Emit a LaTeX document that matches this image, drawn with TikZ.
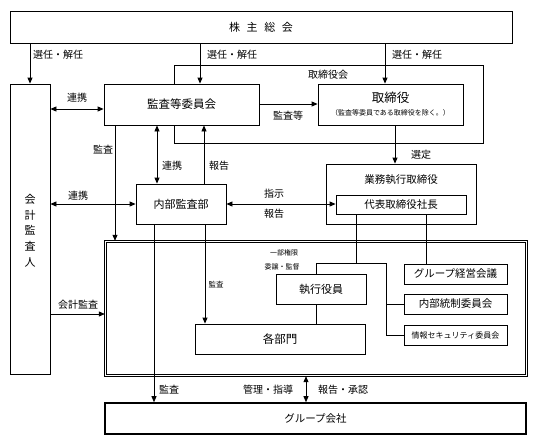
\documentclass[tikz,border=0pt]{standalone}
\usepackage{fontspec}
\setmainfont{Noto Sans CJK JP}
\usetikzlibrary{arrows.meta}
\begin{document}
\begin{tikzpicture}[x=1pt,y=-1pt,
  bx/.style={draw, line width=0.8pt, inner sep=0pt, font=\fontsize{11}{13}\selectfont},
  lab/.style={inner sep=0pt, font=\fontsize{10}{12}\selectfont},
  slab/.style={inner sep=0pt, font=\fontsize{7}{8}\selectfont},
  ln/.style={line width=0.8pt},
  arr/.style={line width=0.8pt, -{Triangle[length=6pt,width=5pt]}},
  darr/.style={line width=0.8pt, {Triangle[length=6pt,width=5pt]}-{Triangle[length=6pt,width=5pt]}}
]
\useasboundingbox (0,0) rectangle (536,445);

% boxes
\node[bx, minimum width=502pt, minimum height=32pt] (kabu) at (261,27) {株\hspace{0.6em}主\hspace{0.6em}総\hspace{0.6em}会};
\node[bx, minimum width=40pt, minimum height=290pt] (kaikei) at (30,229) {};
\node[lab, align=center, font=\fontsize{11}{15.7}\selectfont] (kaikeit) at (30,230.5) {会\\計\\監\\査\\人};
\node[bx, minimum width=155pt, minimum height=41pt, font=\fontsize{11.5}{13}\selectfont] (kansa) at (181.5,104.5) {監査等委員会};
\node[bx, minimum width=145pt, minimum height=41pt] (tori) at (390.5,104.5) {};
\node[inner sep=0pt, font=\fontsize{12.5}{14}\selectfont] (torit) at (390.5,98) {取締役};
\node[inner sep=0pt, font=\fontsize{7}{8}\selectfont] (toris) at (390.5,113) {（監査等委員である取締役を除く。）};
\node[bx, minimum width=90pt, minimum height=40pt] (naibu) at (181,204) {内部監査部};
\node[bx, minimum width=150pt, minimum height=60pt] (gyomu) at (401,194) {};
\node[inner sep=0pt, font=\fontsize{10.5}{12}\selectfont] (gyomut) at (401,180) {業務執行取締役};
\node[bx, minimum width=130pt, minimum height=19pt, font=\fontsize{10.5}{12}\selectfont] (daihyo) at (401,204.5) {代表取締役社長};
\node[inner sep=0pt, minimum width=422pt, minimum height=135pt] (frame) at (316,308.5) {};
\draw[line width=0.7pt] (frame.north west) rectangle (frame.south east);
\draw[line width=0.7pt] ([shift={(2,2)}]frame.north west) rectangle ([shift={(-2,-2)}]frame.south east);
\node[bx, minimum width=170pt, minimum height=30pt, font=\fontsize{11.5}{13}\selectfont] (kakubu) at (280,339) {各部門};
\node[bx, minimum width=90pt, minimum height=30pt] (shikko) at (321,289) {執行役員};
\node[bx, minimum width=103pt, minimum height=20pt, font=\fontsize{10.5}{12}\selectfont] (gconf) at (455.5,274) {グループ経営会議};
\node[bx, minimum width=103pt, minimum height=20pt, font=\fontsize{10.5}{12}\selectfont] (tosei) at (455.5,304) {内部統制委員会};
\node[bx, minimum width=103pt, minimum height=20pt, font=\fontsize{8}{10}\selectfont] (joho) at (455.5,335) {情報セキュリティ委員会};
\node[bx, line width=1.6pt, minimum width=421pt, minimum height=31pt, font=\fontsize{10.5}{12}\selectfont] (gco) at (315.5,418.5) {グループ会社};

% helper coordinates
\coordinate (cA) at (200,0);
\coordinate (cB) at (385,0);
\coordinate (cC) at (115,0);
\coordinate (cD) at (157,0);
\coordinate (cE) at (204,0);
\coordinate (cF) at (395,0);
\coordinate (cG) at (154,0);
\coordinate (cH) at (205,0);
\coordinate (cI) at (356,0);
\coordinate (cJ) at (426,0);
\coordinate (cK) at (316,0);
\coordinate (cL) at (386,0);
\coordinate (cM) at (306,0);
\coordinate (r1) at (0,109);
\coordinate (r2) at (0,104);
\coordinate (r3) at (0,204);
\coordinate (r4) at (0,314);
\coordinate (r5) at (0,263);
\coordinate (tk1) at (174,65);
\coordinate (tk2) at (483,143);

% 取締役会 frame
\draw[ln] (kansa.north -| tk1) -- (tk1) -- (tk1 -| tk2) -- (tk2) -- (tk2 -| tk1) -- (kansa.south -| tk1);

% connectors
\draw[arr] (kabu.south -| kaikei.north) -- (kaikei.north);
\draw[arr] (kabu.south -| cA) -- (kansa.north -| cA);
\draw[arr] (kabu.south -| cB) -- (tori.north -| cB);
\draw[darr] (kaikei.east |- r1) -- (kansa.west |- r1);
\draw[arr] (kansa.east |- r2) -- (tori.west |- r2);
\draw[arr] (kansa.south -| cC) -- (frame.north -| cC);
\draw[darr] (kansa.south -| cD) -- (naibu.north -| cD);
\draw[arr] (naibu.north -| cE) -- (kansa.south -| cE);
\draw[darr] (kaikei.east |- r3) -- (naibu.west |- r3);
\draw[darr] (naibu.east |- r3) -- (daihyo.west |- r3);
\draw[arr] (tori.south -| cF) -- (gyomu.north -| cF);
\draw[arr] (naibu.south -| cG) -- (gco.north -| cG);
\draw[arr] (naibu.south -| cH) -- (kakubu.north -| cH);
\draw[arr] (kaikei.east |- r4) -- (frame.west |- r4);
\draw[ln] (daihyo.south -| cI) -- (cI |- r5) -- (cK |- r5) -- (shikko.north -| cK);
\draw[ln] (cI |- r5) -- (cL |- r5) -- (cL |- joho.west) -- (joho.west);
\draw[ln] (cL |- tosei.west) -- (tosei.west);
\draw[ln] (daihyo.south -| cJ) -- (gconf.north -| cJ);
\draw[ln] (shikko.south -| cK) -- (kakubu.north -| cK);
\draw[darr] (frame.south -| cM) -- (gco.north -| cM);

% labels
\node[lab, anchor=west] (l1) at (33,55) {選任・解任};
\node[lab, anchor=west] (l2) at (207,55) {選任・解任};
\node[lab, anchor=west] (l3) at (392,55) {選任・解任};
\node[lab] (l4) at (328,75) {取締役会};
\node[lab] (l5) at (77,98) {連携};
\node[lab] (l6) at (288,116) {監査等};
\node[lab] (l7) at (103,150) {監査};
\node[lab] (l8) at (172,166) {連携};
\node[lab] (l9) at (219,166) {報告};
\node[lab] (l10) at (78,196) {連携};
\node[lab] (l11) at (274,194) {指示};
\node[lab] (l12) at (274,214) {報告};
\node[lab] (l13) at (421,155) {選定};
\node[lab] (l14) at (78,305) {会計監査};
\node[slab, font=\fontsize{7.5}{9}\selectfont] (l15) at (216,285) {監査};
\node[slab] (l16) at (284,253) {一部権限};
\node[slab] (l17) at (282,267) {委譲・監督};
\node[lab] (l18) at (169,390) {監査};
\node[lab] (l19) at (268,390) {管理・指導};
\node[lab] (l20) at (343,390) {報告・承認};
\end{tikzpicture}
\end{document}
